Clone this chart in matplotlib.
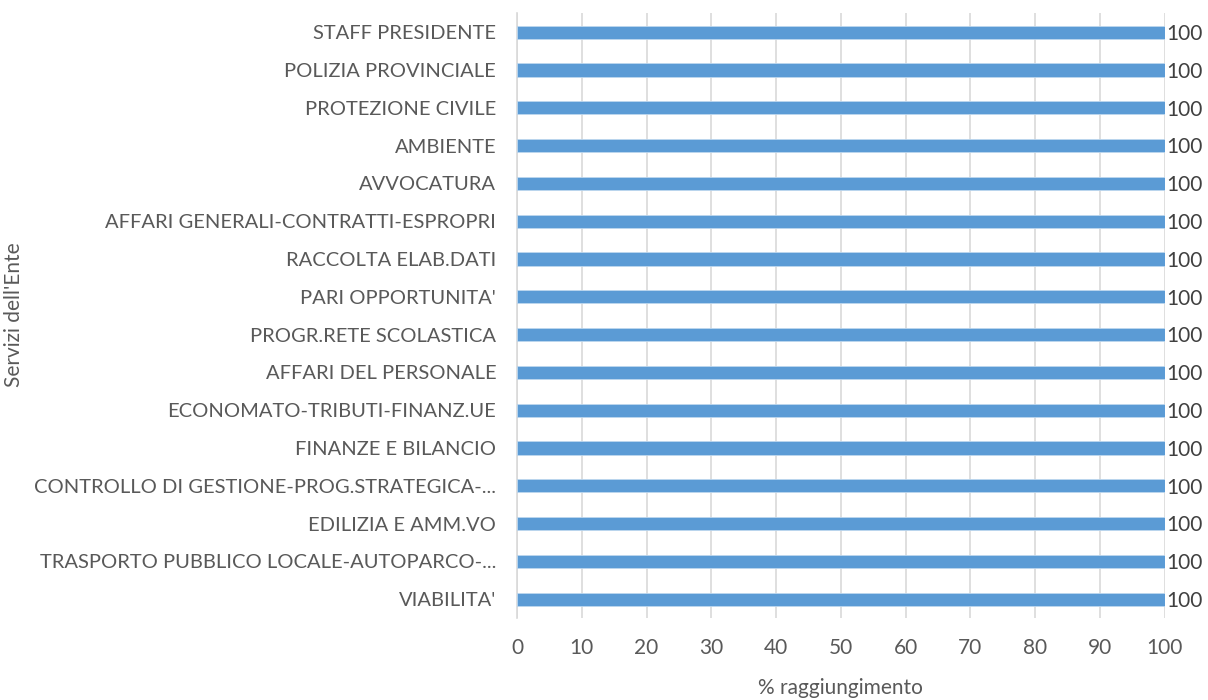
import matplotlib
matplotlib.use('Agg')
import matplotlib.pyplot as plt

# data (bottom to top)
servizi = ["VIABILITA'", "TRASPORTO PUBBLICO LOCALE-AUTOPARCO-...", "EDILIZIA E AMM.VO",
           "CONTROLLO DI GESTIONE-PROG.STRATEGICA-...", "FINANZE E BILANCIO",
           "ECONOMATO-TRIBUTI-FINANZ.UE", "AFFARI DEL PERSONALE", "PROGR.RETE SCOLASTICA",
           "PARI OPPORTUNITA'", "RACCOLTA ELAB.DATI", "AFFARI GENERALI-CONTRATTI-ESPROPRI",
           "AVVOCATURA", "AMBIENTE", "PROTEZIONE CIVILE", "POLIZIA PROVINCIALE",
           "STAFF PRESIDENTE"]
raggiungimento = [100] * 16
xticks = list(range(0, 101, 10))

plt.rcParams['font.family'] = ['Lato', 'DejaVu Sans']
grey = '#595959'

fig = plt.figure(figsize=(12.08, 7.0), dpi=100)
ax = fig.add_axes([0.428, 0.117, 0.536, 0.864])

pos = list(range(len(servizi)))
ax.barh(pos, raggiungimento, height=0.35, color='#5B9BD5', edgecolor='#BDD7EE',
        linewidth=0.6, zorder=3)
for p, v in zip(pos, raggiungimento):
    ax.text(v + 0.3, p - 0.05, str(v), va='center', ha='left', fontsize=15, color='#404040')

ax.set_xlim(0, 100)
ax.set_ylim(-0.5, len(servizi) - 0.5)
ax.set_xticks(xticks)
ax.set_xticklabels([str(t) for t in xticks], fontsize=15, color=grey)
ax.set_yticks(pos)
ax.set_yticklabels(servizi, fontsize=14.5, color=grey)
ax.tick_params(axis='both', length=0)
ax.tick_params(axis='x', pad=14)
ax.tick_params(axis='y', pad=15)
ax.grid(axis='x', color='#D9D9D9', linewidth=1.2, zorder=0)
for s in ['top', 'right', 'bottom']:
    ax.spines[s].set_visible(False)
ax.spines['left'].set_color('#D9D9D9')
ax.spines['left'].set_linewidth(1.2)

ax.set_xlabel('% raggiungimento', fontsize=15, color=grey, labelpad=15)
fig.text(0.012, 0.55, "Servizi dell'Ente", rotation=90, va='center', ha='center',
         fontsize=15, color=grey)

fig.savefig('out.png', dpi=100)
